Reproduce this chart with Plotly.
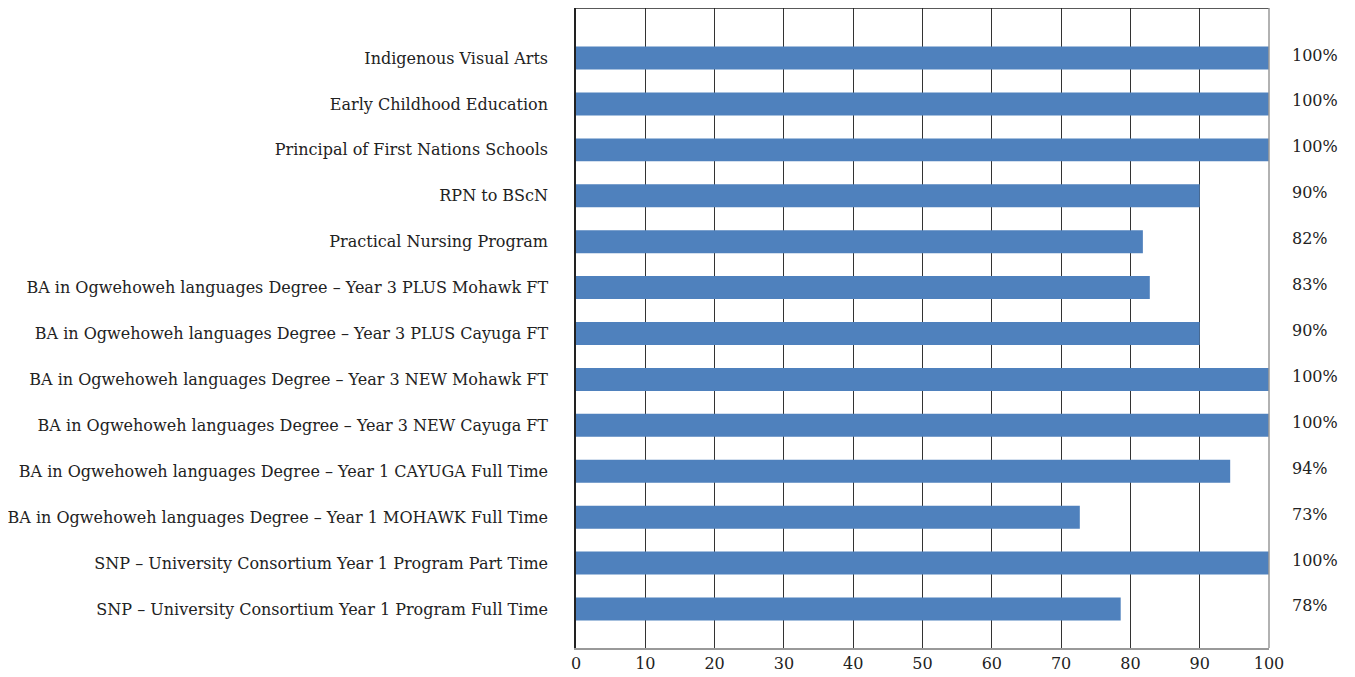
import plotly.graph_objects as go

categories = [
    "SNP – University Consortium Year 1 Program Full Time",
    "SNP – University Consortium Year 1 Program Part Time",
    "BA in Ogwehoweh languages Degree – Year 1 MOHAWK Full Time",
    "BA in Ogwehoweh languages Degree – Year 1 CAYUGA Full Time",
    "BA in Ogwehoweh languages Degree – Year 3 NEW Cayuga FT",
    "BA in Ogwehoweh languages Degree – Year 3 NEW Mohawk FT",
    "BA in Ogwehoweh languages Degree – Year 3 PLUS Cayuga FT",
    "BA in Ogwehoweh languages Degree – Year 3 PLUS Mohawk FT",
    "Practical Nursing Program",
    "RPN to BScN",
    "Principal of First Nations Schools",
    "Early Childhood Education",
    "Indigenous Visual Arts",
]
values = [78.6, 100, 72.7, 94.4, 100, 100, 90, 82.8, 81.8, 90, 100, 100, 100]
pct_labels = ["78%", "100%", "73%", "94%", "100%", "100%", "90%", "83%", "82%", "90%", "100%", "100%", "100%"]
x_ticks = [0, 10, 20, 30, 40, 50, 60, 70, 80, 90, 100]

FONT = "DejaVu Serif"
SIZE = 16

fig = go.Figure()
fig.add_trace(go.Bar(
    y=categories, x=values, orientation="h",
    marker=dict(color="#4F81BD", line=dict(width=0)),
    width=0.5, showlegend=False, hoverinfo="x+y",
))

for cat, lab in zip(categories, pct_labels):
    fig.add_annotation(
        x=1.031, y=cat, xref="paper", yref="y", text=lab, showarrow=False,
        xanchor="left", yanchor="middle", yshift=3,
        font=dict(family=FONT, size=SIZE, color="#222222"),
    )

fig.update_layout(
    width=1339, height=669,
    margin=dict(l=568, r=78, t=0, b=29, autoexpand=False),
    paper_bgcolor="white", plot_bgcolor="white",
    font=dict(family=FONT, size=SIZE, color="#222222"),
    bargap=0.5,
    shapes=[
        dict(type="line", xref="paper", yref="paper", x0=0, x1=1, y0=1, y1=1,
             line=dict(color="#222222", width=1.5), layer="above"),
        dict(type="line", xref="paper", yref="paper", x0=1, x1=1, y0=0, y1=1,
             line=dict(color="#999999", width=1.5), layer="above"),
    ],
)
fig.update_xaxes(
    range=[0, 100], tickvals=x_ticks, ticktext=[str(v) for v in x_ticks],
    showgrid=True, gridcolor="#333333", gridwidth=1,
    showline=True, linecolor="#999999", linewidth=2,
    zeroline=False, ticks="", fixedrange=True, automargin=False,
    tickfont=dict(family=FONT, size=SIZE, color="#222222"),
)
fig.update_yaxes(
    type="category", categoryorder="array", categoryarray=categories,
    range=[-0.85, 13.09], automargin=False,
    showgrid=False, showline=True, linecolor="#222222", linewidth=1.5,
    zeroline=False, ticks="", ticklabelstandoff=23,
    tickfont=dict(family=FONT, size=SIZE, color="#222222"),
)

fig.write_html("out.html")
